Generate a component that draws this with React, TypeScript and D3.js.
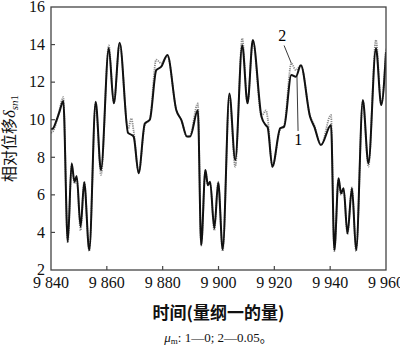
import React from "react";
import * as d3 from "d3";

// time (dimensionless)
const times = [
  9840.0, 9840.8, 9841.8, 9843.0, 9844.4, 9846.0, 9847.4, 9848.4, 9849.2, 9850.6,
  9851.9, 9853.7, 9856.0, 9857.9, 9860.7, 9862.5, 9864.6, 9867.6, 9868.8, 9869.6,
  9871.4, 9873.6, 9875.4, 9877.7, 9879.5, 9881.7, 9884.9, 9886.7, 9888.7, 9889.8,
  9892.6, 9893.8, 9895.3, 9896.2, 9897.0, 9898.5, 9899.9, 9901.5, 9903.9, 9906.0,
  9908.5, 9910.4, 9912.3, 9915.4, 9917.0, 9917.6, 9919.3, 9922.1, 9923.5, 9926.1,
  9927.7, 9929.5, 9932.8, 9934.3, 9936.7, 9940.3, 9941.5, 9943.0, 9943.9, 9944.8,
  9946.2, 9947.8, 9949.3, 9951.7, 9953.7, 9956.4, 9958.3, 9960.0,
];
// curve 1: mu_m = 0 (solid)
const series1 = [
  9.5, 9.55, 9.9, 10.4, 11.0, 3.5, 7.68, 6.7, 7.0, 4.3,
  6.67, 3.06, 10.96, 7.32, 13.8, 10.87, 14.1, 9.3, 9.2, 9.1,
  7.15, 9.8, 10.0, 12.64, 12.82, 13.44, 10.5, 9.98, 9.1, 9.1,
  10.5, 3.33, 7.32, 6.52, 6.7, 4.22, 6.65, 3.1, 11.4, 7.85,
  13.97, 10.87, 14.24, 10.16, 9.7, 9.6, 7.5, 9.54, 9.63, 12.38,
  12.29, 12.9, 10.16, 9.63, 8.65, 9.72, 3.06, 6.88, 6.08, 6.35,
  3.95, 6.35, 3.06, 11.05, 7.68, 13.8, 10.78, 13.6,
];
// curve 2: mu_m = 0.05 (dotted)
const series2 = [
  9.3, 9.4, 9.8, 10.5, 11.2, 3.45, 7.6, 6.6, 6.9, 4.1,
  6.7, 3.0, 10.9, 7.06, 13.95, 10.9, 14.05, 9.5, 10.07, 9.4,
  7.2, 9.7, 10.05, 13.2, 13.0, 13.4, 10.5, 9.98, 9.1, 9.15,
  10.87, 3.3, 7.3, 6.5, 6.65, 4.1, 6.7, 3.0, 11.3, 7.5,
  14.33, 10.9, 14.2, 10.2, 10.5, 10.1, 7.5, 9.5, 9.7, 13.0,
  12.64, 12.9, 10.2, 9.7, 8.65, 10.25, 3.0, 6.85, 6.0, 6.3,
  3.9, 6.4, 3.0, 11.0, 7.5, 14.24, 10.8, 13.8,
];

const xTicks = [9840, 9860, 9880, 9900, 9920, 9940, 9960];
const xTickLabels = ["9 840", "9 860", "9 880", "9 900", "9 920", "9 940", "9 960"];
const yTicks = [2, 4, 6, 8, 10, 12, 14, 16];
const yTickLabels = ["2", "4", "6", "8", "10", "12", "14", "16"];

// curve labels with leader lines, in data units
const annoLabels = ["2", "1"];
const annoText = [[9922.8, 14.5], [9928.6, 8.95]];
const annoLine = [
  [[9923.5, 13.95], [9926.1, 13.0]],
  [[9928.1, 12.35], [9928.5, 9.4]],
];

const W = 400;
const H = 348;
const L = 51, R = 386, T = 7, B = 270;

export default function App() {
  const x = d3.scaleLinear().domain([9840, 9960]).range([L, R]);
  const y = d3.scaleLinear().domain([2, 16]).range([B, T]);
  const line = d3
    .line<number>()
    .x((_, i) => x(times[i]))
    .y((d) => y(d))
    .curve(d3.curveMonotoneX);
  const serif = "'Liberation Serif', 'Times New Roman', serif";
  const cjk = "'Noto Sans CJK SC', sans-serif";
  return (
    <svg
      width={W}
      height={H}
      style={{ position: "absolute", left: 0, top: 0, background: "#fff" }}
    >
      <defs>
        <clipPath id="plot">
          <rect x={L} y={T} width={R - L} height={B - T} />
        </clipPath>
      </defs>
      <g clipPath="url(#plot)">
        <path
          d={line(series2) || ""}
          fill="none"
          stroke="#8a8a8a"
          strokeWidth={1.8}
          strokeDasharray="1.2 1"
        />
        <path
          d={line(series1) || ""}
          fill="none"
          stroke="#111"
          strokeWidth={2}
          strokeLinejoin="round"
        />
      </g>
      <rect x={L} y={T} width={R - L} height={B - T} fill="none" stroke="#444" strokeWidth={1.3} />
      {xTicks.map((t, i) => (
        <g key={"x" + t}>
          {i > 0 && i < xTicks.length - 1 && (
            <line x1={x(t)} x2={x(t)} y1={B} y2={B - 4} stroke="#444" strokeWidth={1.2} />
          )}
          <text
            x={x(t)}
            y={B + 18}
            textAnchor="middle"
            fontFamily={serif}
            fontSize={16}
            fill="#111"
          >
            {xTickLabels[i]}
          </text>
        </g>
      ))}
      {yTicks.map((t, i) => (
        <g key={"y" + t}>
          {i > 0 && i < yTicks.length - 1 && (
            <line x1={L} x2={L + 4} y1={y(t)} y2={y(t)} stroke="#444" strokeWidth={1.2} />
          )}
          <text
            x={L - 6}
            y={y(t)}
            dy="0.33em"
            textAnchor="end"
            fontFamily={serif}
            fontSize={16}
            fill="#111"
          >
            {yTickLabels[i]}
          </text>
        </g>
      ))}
      {annoLabels.map((lab, i) => (
        <g key={"a" + lab}>
          <line
            x1={x(annoLine[i][0][0])}
            y1={y(annoLine[i][0][1])}
            x2={x(annoLine[i][1][0])}
            y2={y(annoLine[i][1][1])}
            stroke="#222"
            strokeWidth={0.9}
          />
          <text
            x={x(annoText[i][0])}
            y={y(annoText[i][1])}
            dy="0.35em"
            textAnchor="middle"
            fontFamily={serif}
            fontSize={16}
            fill="#000"
          >
            {lab}
          </text>
        </g>
      ))}
      <text
        x={(L + R) / 2}
        y={319}
        textAnchor="middle"
        fontFamily={cjk}
        fontWeight={700}
        fontSize={17}
        fill="#111"
      >
        时间(量纲一的量)
      </text>
      <text
        transform={`translate(15, ${(T + B) / 2}) rotate(-90)`}
        textAnchor="middle"
        fontFamily={cjk}
        fontSize={16}
        fill="#111"
      >
        相对位移
        <tspan fontFamily={serif} fontStyle="italic" fontSize={17}>δ</tspan>
        <tspan fontFamily={serif} fontStyle="italic" fontSize={11} dy={3}>sn</tspan>
        <tspan fontFamily={serif} fontSize={11}>1</tspan>
      </text>
      <text x={(L + R) / 2} y={342} textAnchor="middle" fontFamily={serif} fontSize={13} fill="#111">
        <tspan fontStyle="italic">μ</tspan>
        <tspan fontSize={9} dy={2}>m</tspan>
        <tspan dy={-2}>: 1—0; 2—0.05</tspan>
        <tspan fontFamily={cjk}>。</tspan>
      </text>
    </svg>
  );
}
